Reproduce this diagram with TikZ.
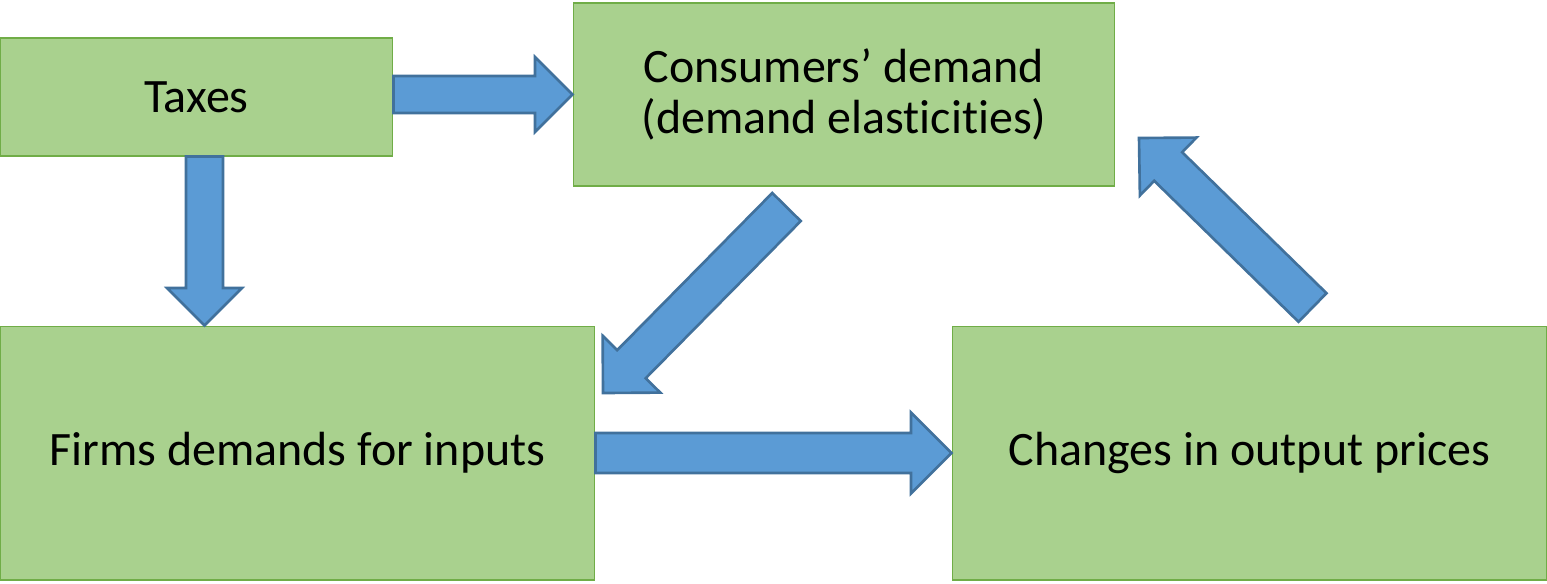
\documentclass[tikz,border=0pt]{standalone}
\usepackage{fontspec}
\setmainfont{Carlito}[Ligatures={NoCommon}]
\usetikzlibrary{calc}
\definecolor{boxfill}{HTML}{A9D18E}
\definecolor{boxline}{HTML}{70AD47}
\definecolor{arrfill}{HTML}{5B9BD5}
\definecolor{arrline}{HTML}{41719C}
\tikzset{
  box/.style      = {draw=boxline, line width=0.6pt, fill=boxfill, inner sep=0pt,
                     font=\fontsize{27.3}{29}\selectfont, align=center},
  blockarr/.style = {draw=arrline, fill=arrfill, line width=1.5pt, line join=miter},
}
\newcommand{\pxw}{0.569}% one grid unit in pt
\newcommand{\blockarrow}[3][20]{%      % #1 = half shaft width, #2 = tail, #3 = tip
  \path[blockarr] let \p1=(#2), \p2=(#3),
      \n1={atan2(\y2-\y1,\x2-\x1)},
      \n3={#1*\pxw*1pt}, \n4={(2*#1+0.5)*\pxw*1pt},
      \n2={veclen(\x2-\x1,\y2-\y1)-\n4} in
    ($(\p1)+(\n1+90:\n3)$)
    -- ($(\p1)+(\n1:\n2)+(\n1+90:\n3)$)
    -- ($(\p1)+(\n1:\n2)+(\n1+90:\n4)$)
    -- (\p2)
    -- ($(\p1)+(\n1:\n2)+(\n1-90:\n4)$)
    -- ($(\p1)+(\n1:\n2)+(\n1-90:\n3)$)
    -- ($(\p1)+(\n1-90:\n3)$) -- cycle;}

\begin{document}
\begin{tikzpicture}[x=0.02cm, y=-0.02cm]
  \useasboundingbox (0,0) rectangle (1547,583);

  % boxes
  \node[box, minimum width=7.86cm, minimum height=2.36cm] (taxes) at (196.5,97) {Taxes};
  \node[box, minimum width=10.84cm, minimum height=3.66cm] (cons) at (844,94.5)
    {Consumers’ demand\\(demand elasticities)};
  \node[box, minimum width=11.9cm, minimum height=5.08cm] (firms) at (297.5,453)
    {Firms demands for inputs};
  \node[box, minimum width=11.9cm, minimum height=5.08cm] (prices) at (1249.5,453)
    {Changes in output prices};

  % block arrows
  \coordinate (dn) at ([xshift=0.16cm]taxes.south);
  \coordinate (c1) at (786.5,207);
  \coordinate (c2) at (603,393);
  \coordinate (p1) at (1312.5,307.5);
  \coordinate (p2) at (1139,138);
  \blockarrow[18.5]{taxes.east |- cons.west}{cons.west}
  \blockarrow[18.5]{dn}{dn |- firms.north}
  \blockarrow{c1}{c2}
  \blockarrow{firms.east}{prices.west}
  \blockarrow{p1}{p2}
\end{tikzpicture}
\end{document}
